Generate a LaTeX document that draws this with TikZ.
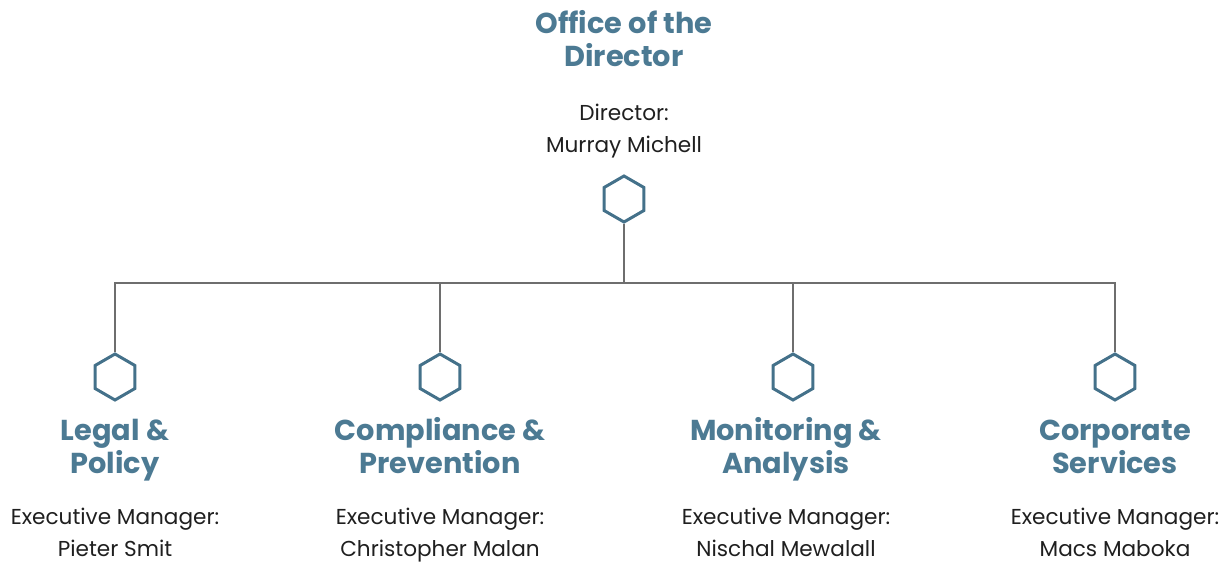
\documentclass[tikz,border=0pt]{standalone}
\usepackage{fontspec}
\setmainfont{Poppins}
\usetikzlibrary{shapes.geometric}
\definecolor{teal}{HTML}{4C7A93}
\definecolor{hexc}{HTML}{44718A}
\definecolor{linec}{HTML}{6E6E6E}
\tikzset{
  hexa/.style={regular polygon, regular polygon sides=6, shape border rotate=30,
    minimum size=46pt, inner sep=0pt, draw=hexc, line width=3pt},
  unit/.style={text=teal, font=\fontsize{28.8}{33}\selectfont\bfseries, align=center, inner sep=0pt},
  person/.style={text=black!88, font=\fontsize{21.6}{32}\selectfont, align=center, inner sep=0pt},
  conn/.style={draw=linec, line width=1.3pt},
}
\begin{document}
\begin{tikzpicture}[x=1pt,y=-1pt]
\useasboundingbox (0,0) rectangle (1227,562);
\node[unit] (t0) at (624,43.4) {\strut Office of the\\Director\strut};
\node[person] (p0) at (624,129.6) {\strut Director:\\Murray Michell\strut};
\node[hexa] (h0) at (624,199) {};
\coordinate (bus) at (624,283);

\node[hexa] (h1) at (115,377) {};
\node[hexa] (h2) at (440,377) {};
\node[hexa] (h3) at (793,377) {};
\node[hexa] (h4) at (1115,377) {};

\node[unit] (t1) at (115,449.9) {\strut Legal \&\\Policy\strut};
\node[unit] (t2) at (440,449.9) {\strut Compliance \&\\Prevention\strut};
\node[unit] (t3) at (786,449.9) {\strut Monitoring \&\\Analysis\strut};
\node[unit] (t4) at (1115,449.9) {\strut Corporate\\Services\strut};

\node[person] (p1) at (115,534.4) {\strut Executive Manager:\\Pieter Smit\strut};
\node[person] (p2) at (440,534.4) {\strut Executive Manager:\\Christopher Malan\strut};
\node[person] (p3) at (786,534.4) {\strut Executive Manager:\\Nischal Mewalall\strut};
\node[person] (p4) at (1115,534.4) {\strut Executive Manager:\\Macs Maboka\strut};

\draw[conn] (h0.south) -- (bus);
\draw[conn] (h1.north) -- (h1.north |- bus) -- (h4.north |- bus) -- (h4.north);
\draw[conn] (h2.north |- bus) -- (h2.north);
\draw[conn] (h3.north |- bus) -- (h3.north);
\end{tikzpicture}
\end{document}
